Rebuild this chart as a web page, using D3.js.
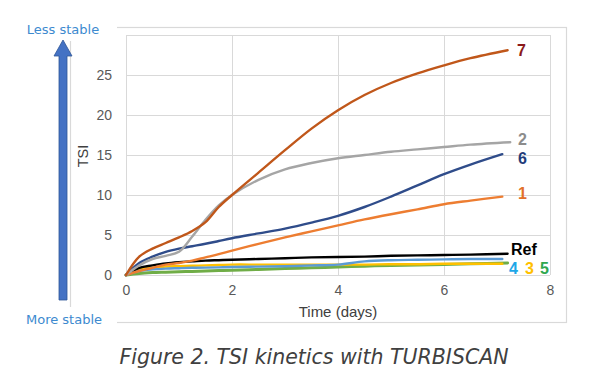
<!DOCTYPE html>
<html><head><meta charset="utf-8">
<script src="https://cdn.jsdelivr.net/npm/d3@7"></script>
<style>body{margin:0;background:#fff}svg{display:block}</style>
</head><body>
<svg id="c" width="589" height="379"></svg>
<script>
const times = [0,0.25,0.5,0.75,1,1.25,1.5,1.75,2,2.5,3,3.5,4,4.5,5,5.5,6,6.5];
const seriesNames = ["5","3","4","Ref","1","6","2","7"];
const seriesEnd = [7.2,7.1,7.1,7.2,7.1,7.1,7.25,7.2];
const v5   = [0,0.2,0.3,0.35,0.4,0.45,0.5,0.55,0.6,0.7,0.8,0.9,1.0,1.1,1.2,1.25,1.3,1.4,1.5];
const v3   = [0,0.7,0.9,1.05,1.1,1.15,1.2,1.25,1.3,1.3,1.3,1.3,1.3,1.3,1.35,1.35,1.4,1.4,1.4];
const v4   = [0,0.5,0.7,0.8,0.85,0.9,0.92,0.95,1.0,1.05,1.1,1.2,1.3,1.7,1.85,1.9,1.95,2.0,2.0];
const vRef = [0,0.9,1.2,1.45,1.6,1.7,1.8,1.85,1.9,2.0,2.1,2.2,2.25,2.3,2.4,2.45,2.5,2.55,2.65];
const v1   = [0,0.5,0.9,1.3,1.5,1.8,2.2,2.6,3.05,3.9,4.7,5.45,6.2,6.95,7.6,8.2,8.85,9.3,9.8];
const v6   = [0,1.5,2.3,2.9,3.3,3.6,3.9,4.25,4.6,5.2,5.8,6.55,7.4,8.5,9.8,11.2,12.6,13.8,15.1];
const v2   = [0,1.2,2.0,2.4,2.9,4.8,6.9,8.7,10.0,11.9,13.2,14.0,14.6,15.0,15.4,15.7,16.0,16.3,16.6];
const v7   = [0,2.3,3.3,4.0,4.7,5.5,6.6,8.5,10.0,12.8,15.6,18.3,20.6,22.5,24.0,25.2,26.2,27.1,28.1];
const seriesValues = [v5,v3,v4,vRef,v1,v6,v2,v7];
const xTicks = [0,2,4,6,8];
const yTicks = [0,5,10,15,20,25];
const yGrid = [0,5,10,15,20,25,30];

const lineColors = {"5":"#70AD47","3":"#FFC000","4":"#5B9BD5","Ref":"#000000","1":"#ED7D31","6":"#2F4C8A","2":"#A5A5A5","7":"#C0571A"};
const labelColors = {"7":"#8B1A1A","2":"#8C8C8C","6":"#1F3C7A","1":"#E2702A","Ref":"#000000","4":"#1EA7E8","3":"#FFC000","5":"#2FA84F"};

const svg = d3.select("#c");
const x = d3.scaleLinear().domain([0,8]).range([126,550]);
const y = d3.scaleLinear().domain([0,30]).range([275,35]);
const lf = "'Liberation Sans',Arial,sans-serif";

// outer chart border
svg.append("rect").attr("x",70.5).attr("y",27.5).attr("width",496).attr("height",295)
  .attr("fill","#fff").attr("stroke","#d9d9d9").attr("stroke-width",1.2);
// white label boxes covering border
svg.append("rect").attr("x",0).attr("y",15).attr("width",117).attr("height",26).attr("fill","#fff");
svg.append("rect").attr("x",0).attr("y",307).attr("width",117).attr("height",26).attr("fill","#fff");

// grid
const g = svg.append("g");
g.selectAll("line.h").data(yGrid).join("line")
  .attr("x1",x(0)).attr("x2",x(8)).attr("y1",d=>Math.round(y(d))+0.5).attr("y2",d=>Math.round(y(d))+0.5)
  .attr("stroke","#d9d9d9").attr("stroke-width",1);
g.selectAll("line.v").data(xTicks).join("line")
  .attr("y1",y(0)).attr("y2",y(30)).attr("x1",d=>Math.round(x(d))+0.5).attr("x2",d=>Math.round(x(d))+0.5)
  .attr("stroke","#d9d9d9").attr("stroke-width",1);

// axes labels via d3 axes
const yAxis = svg.append("g").attr("transform",`translate(${x(0)},0)`)
  .call(d3.axisLeft(y).tickValues(yTicks).tickSize(0).tickPadding(14));
const xAxis = svg.append("g").attr("transform",`translate(0,${y(0)})`)
  .call(d3.axisBottom(x).tickValues(xTicks).tickSize(0).tickPadding(10));
[yAxis,xAxis].forEach(a=>{
  a.attr("font-family",lf).attr("font-size",14);
  a.select(".domain").remove();
  a.selectAll("text").attr("fill","#595959");
});

svg.append("text").attr("x",338).attr("y",317).attr("text-anchor","middle")
  .attr("fill","#404040").attr("font-family",lf).attr("font-size",15).text("Time (days)");
svg.append("text").attr("transform","translate(88,156) rotate(-90)").attr("text-anchor","middle")
  .attr("fill","#404040").attr("font-family",lf).attr("font-size",14.5).text("TSI");

// lines
const line = d3.line().x(d=>x(d[0])).y(d=>y(d[1])).curve(d3.curveCatmullRom.alpha(0.5));
seriesNames.forEach((name,i)=>{
  const pts = seriesValues[i].map((v,j)=>[j<times.length?times[j]:seriesEnd[i], v]);
  svg.append("path").attr("d",line(pts)).attr("fill","none")
    .attr("stroke",lineColors[name]).attr("stroke-width",name==="5"?3:2.4)
    .attr("stroke-linecap","round").attr("stroke-linejoin","round");
});

// end labels
const endLabels = [
  {n:"7",x:517,y:56},{n:"2",x:518,y:145},{n:"6",x:518,y:164},{n:"1",x:518,y:199},
  {n:"Ref",x:511,y:255},{n:"4",x:509,y:274},{n:"3",x:525,y:274},{n:"5",x:540,y:274}
];
svg.selectAll("text.el").data(endLabels).join("text")
  .attr("x",d=>d.x).attr("y",d=>d.y).attr("fill",d=>labelColors[d.n])
  .attr("font-family",lf).attr("font-size",16).attr("font-weight","bold").text(d=>d.n);

// arrow
svg.append("path").attr("d","M59,300 L59,56 L54,56 L63,40 L72,56 L67,56 L67,300 Z")
  .attr("fill","#4472C4").attr("stroke","#2F5597").attr("stroke-width",0.8);

// stability labels
svg.append("text").attr("x",63).attr("y",34).attr("text-anchor","middle").attr("fill","#3D8ACF")
  .attr("font-family","'DejaVu Sans',Verdana,sans-serif").attr("font-size",13).text("Less stable");
svg.append("text").attr("x",64).attr("y",324).attr("text-anchor","middle").attr("fill","#3D8ACF")
  .attr("font-family","'DejaVu Sans',Verdana,sans-serif").attr("font-size",13).text("More stable");

// caption
svg.append("text").attr("x",314).attr("y",364).attr("text-anchor","middle").attr("fill","#404040")
  .attr("font-family","'DejaVu Sans',Verdana,sans-serif").attr("font-style","italic").attr("font-size",20.5)
  .text("Figure 2. TSI kinetics with TURBISCAN");
</script>
</body></html>
